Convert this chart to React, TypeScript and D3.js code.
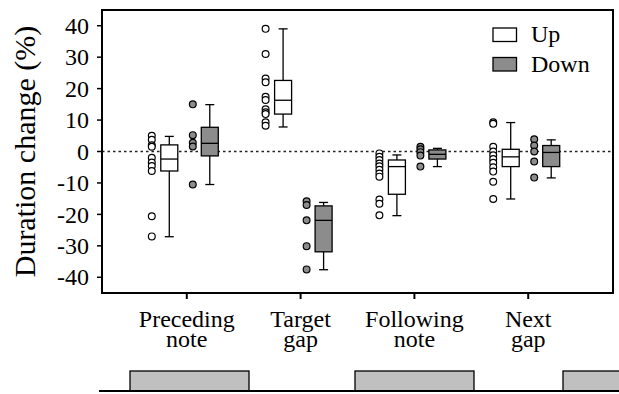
import React from "react";
import * as d3 from "d3";

const width = 619;
const height = 394;

const categories = ["Preceding note", "Target gap", "Following note", "Next gap"];

// points, per category
const upPoints = [
  [5, 3.7, 2, 1.5, -2, -3.5, -4.6, -6.2, -20.6, -27],
  [39, 31, 23.2, 22, 17.4, 16.4, 13.4, 12.5, 11.9, 9.3, 8.2],
  [-0.6, -1.7, -2.7, -3.8, -4.7, -5.8, -7, -8, -15.3, -16.6, -20.3],
  [9.3, 8.8, 1.5, 0, -1.2, -2.4, -3.6, -5, -6.4, -9.6, -15.1],
];
const downPoints = [
  [15, 5.2, 2.8, 1.6, -10.5],
  [-15.8, -17, -21.9, -30.1, -37.5],
  [1.5, 0.7, -0.2, -1.3, -4.8],
  [3.9, 1.9, 0, -3.2, -8.3],
];

// [low whisker, q1, median, q3, high whisker]
const upBoxes = [
  [-27.1, -6.2, -2.4, 2.1, 4.8],
  [7.8, 11.9, 16.3, 22.6, 39],
  [-20.4, -13.6, -4.8, -2.7, -1.1],
  [-15.1, -4.8, -1.7, 0.7, 9.2],
];
const downBoxes = [
  [-10.5, -1.4, 2.6, 7.7, 14.9],
  [-37.6, -31.9, -21.9, -17.3, -16.2],
  [-4.8, -2.4, -0.9, 0.5, 1],
  [-8.4, -4.8, -0.3, 1.9, 3.7],
];

const yTicks = [40, 30, 20, 10, 0, -10, -20, -30, -40];
const seriesNames = ["Up", "Down"];
const seriesFill = ["#ffffff", "#8c8c8c"];

// schematic of note / gap timing under the chart
const noteSpans = [
  [31, 150],
  [256, 375],
  [464, 560],
];

const font = "Liberation Serif, Times New Roman, Times, serif";

const App = () => {
  const left = 102;
  const right = 613;
  const top = 10;
  const bottom = 293;

  const y = d3.scaleLinear().domain([-45, 45]).range([bottom, top]);
  const x = d3.scalePoint().domain(categories).range([left, right]).padding(0.745);
  const t = d3.scaleLinear().domain([0, 520]).range([99, 619]);

  const boxW = 17;
  const capW = 9;
  const offsets = { upPts: -35, upBox: -17.5, downPts: 6, downBox: 23 };

  const drawBox = (cx: number, b: number[], fill: string, key: string) => {
    const [lo, q1, med, q3, hi] = b;
    return (
      <g key={key} stroke="#000" strokeWidth={1.3}>
        <line x1={cx} x2={cx} y1={y(hi)} y2={y(q3)} />
        <line x1={cx} x2={cx} y1={y(q1)} y2={y(lo)} />
        <line x1={cx - capW / 2} x2={cx + capW / 2} y1={y(hi)} y2={y(hi)} />
        <line x1={cx - capW / 2} x2={cx + capW / 2} y1={y(lo)} y2={y(lo)} />
        <rect x={cx - boxW / 2} y={y(q3)} width={boxW} height={y(q1) - y(q3)} fill={fill} />
        <line x1={cx - boxW / 2} x2={cx + boxW / 2} y1={y(med)} y2={y(med)} />
      </g>
    );
  };

  const drawPoints = (cx: number, pts: number[], fill: string, key: string) => (
    <g key={key}>
      {pts.map((v, i) => (
        <circle key={i} cx={cx} cy={y(v)} r={3.4} fill={fill} stroke="#000" strokeWidth={1.2} />
      ))}
    </g>
  );

  return (
    <svg
      width={width}
      height={height}
      style={{ position: "absolute", left: 0, top: 0, background: "#fff", fontFamily: font }}
    >
      {/* zero line */}
      <line x1={left} x2={right} y1={y(0)} y2={y(0)} stroke="#222" strokeWidth={1.5} strokeDasharray="2.5,3" />

      {categories.map((c, i) => {
        const cx = x(c) as number;
        return (
          <g key={c}>
            {drawPoints(cx + offsets.upPts, upPoints[i], seriesFill[0], "up")}
            {drawBox(cx + offsets.upBox, upBoxes[i], seriesFill[0], "ub")}
            {drawPoints(cx + offsets.downPts, downPoints[i], seriesFill[1], "dp")}
            {drawBox(cx + offsets.downBox, downBoxes[i], seriesFill[1], "db")}
          </g>
        );
      })}

      {/* frame */}
      <rect x={left} y={top} width={right - left} height={bottom - top} fill="none" stroke="#000" strokeWidth={2} />

      {/* y axis */}
      {yTicks.map((v) => (
        <g key={v}>
          <line x1={left - 5} x2={left} y1={y(v)} y2={y(v)} stroke="#000" strokeWidth={1.5} />
          <text x={left - 13} y={y(v)} dy="0.34em" textAnchor="end" fontSize={24}>
            {v}
          </text>
        </g>
      ))}
      <text
        transform={`translate(35, ${(top + bottom) / 2}) rotate(-90)`}
        textAnchor="middle"
        fontSize={30}
      >
        Duration change (%)
      </text>

      {/* x axis */}
      {categories.map((c) => {
        const cx = x(c) as number;
        const [l1, l2] = c.split(" ");
        return (
          <g key={c}>
            <line x1={cx} x2={cx} y1={bottom} y2={bottom + 6} stroke="#000" strokeWidth={2} />
            <text x={cx} y={327} textAnchor="middle" fontSize={24}>
              {l1}
            </text>
            <text x={cx} y={346.5} textAnchor="middle" fontSize={24}>
              {l2}
            </text>
          </g>
        );
      })}

      {/* legend */}
      {seriesNames.map((s, i) => (
        <g key={s} transform={`translate(493, ${28 + i * 29.5})`}>
          <rect width={23.5} height={13.5} fill={seriesFill[i]} stroke="#000" strokeWidth={1.3} />
          <text x={38} y={14} fontSize={24}>
            {s}
          </text>
        </g>
      ))}

      {/* note schematic */}
      {noteSpans.map(([a, b], i) => (
        <rect
          key={i}
          x={t(a)}
          y={371}
          width={t(b) - t(a)}
          height={20}
          fill="#c0c0c0"
          stroke="#000"
          strokeWidth={1.3}
        />
      ))}
      <line x1={t(0)} x2={t(520)} y1={391} y2={391} stroke="#000" strokeWidth={2.2} />
    </svg>
  );
};

export default App;
